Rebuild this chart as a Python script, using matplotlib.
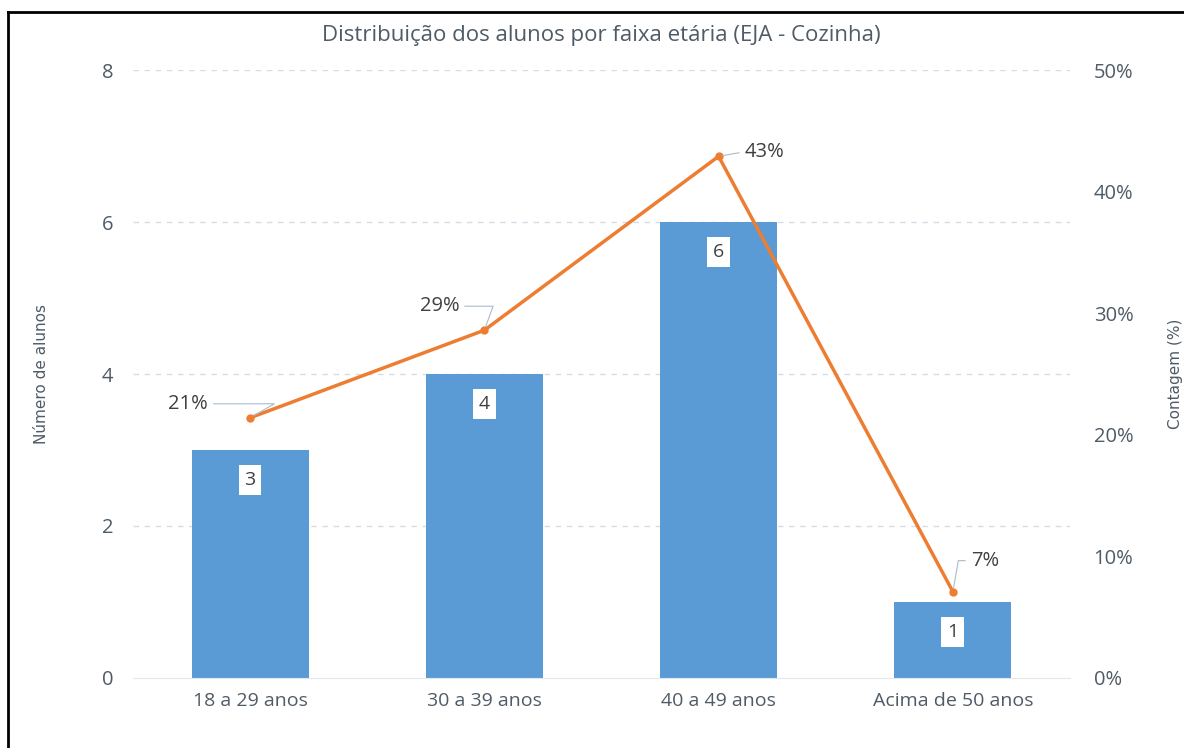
import matplotlib
matplotlib.use("Agg")
import matplotlib.pyplot as plt
from matplotlib.lines import Line2D

# data
faixas = ["18 a 29 anos", "30 a 39 anos", "40 a 49 anos", "Acima de 50 anos"]
alunos = [3, 4, 6, 1]
percentual = [21.4, 28.6, 42.9, 7.1]
rotulos_pct = ["21%", "29%", "43%", "7%"]
left_ticks = [0, 2, 4, 6, 8]
right_ticks = [0, 10, 20, 30, 40, 50]

BAR_COLOR = "#5B9BD5"
LINE_COLOR = "#ED7D31"
TEXT_COLOR = "#4F5B66"
GRID_COLOR = "#D3DDE8"

plt.rcParams["font.family"] = ["Open Sans", "DejaVu Sans"]

fig = plt.figure(figsize=(11.84, 7.48), dpi=100)
ax = fig.add_axes([0.1123, 0.0936, 0.7914, 0.8128])
ax2 = ax.twinx()

x = list(range(len(faixas)))
bars = ax.bar(x, alunos, width=0.5, color=BAR_COLOR, zorder=2)

ax.set_xlim(-0.5, 3.5)
ax.set_ylim(0, 8)
ax.set_yticks(left_ticks)
ax.set_xticks(x)
ax.set_xticklabels(faixas, fontsize=14, color=TEXT_COLOR)
ax.tick_params(axis="both", length=0, colors=TEXT_COLOR, labelsize=14)
ax.tick_params(axis="y", labelsize=14.5, pad=14)
ax.tick_params(axis="x", pad=10)
for yv in left_ticks[1:]:
    ax.axhline(yv, color=GRID_COLOR, lw=1, ls=(0, (4, 4)), zorder=0)
for side in ["top", "right", "left"]:
    ax.spines[side].set_visible(False)
ax.spines["bottom"].set_color("#E3E8EE")
ax.set_ylabel("Número de alunos", fontsize=11, color=TEXT_COLOR,
              family=["Liberation Sans Narrow", "DejaVu Sans"])
ax.yaxis.set_label_coords(-0.09, 0.5)

# value boxes inside the bars
for xi, v in zip(x, alunos):
    ax.annotate(str(v), (xi, v), xytext=(0, -30), textcoords="offset pixels",
                ha="center", va="center", fontsize=14, color="#404040",
                bbox=dict(boxstyle="square,pad=0.3", fc="white", ec="none"), zorder=4)

ax2.plot(x, percentual, color=LINE_COLOR, lw=2.5, marker="o", ms=5, zorder=3)
ax2.set_ylim(0, 50)
ax2.set_yticks(right_ticks)
ax2.set_yticklabels([f"{t}%" for t in right_ticks])
ax2.tick_params(axis="y", length=0, colors=TEXT_COLOR, labelsize=14.5, pad=17)
for side in ["top", "right", "left", "bottom"]:
    ax2.spines[side].set_visible(False)

offsets = [(-62, 14), (-45, 24), (46, 4), (32, 31)]
angles = [30, 70, 10, 80]
for xi, p, lab, (dx, dy), ang in zip(x, percentual, rotulos_pct, offsets, angles):
    ax2.annotate(lab, (xi, p), xytext=(dx, dy), textcoords="offset pixels",
                 ha="center", va="center", fontsize=14.5, color="#404040",
                 arrowprops=dict(arrowstyle="-", color="#A8BCCC", lw=0.8,
                                 shrinkA=2, shrinkB=3,
                                 connectionstyle=f"angle,angleA=0,angleB={ang},rad=0"))

fig.text(0.508, 0.952, "Distribuição dos alunos por faixa etária (EJA - Cozinha)",
         ha="center", va="center", fontsize=16, color=TEXT_COLOR)
fig.text(0.9925, 0.5, "Contagem (%)", rotation=90, ha="center", va="center",
         fontsize=11, color=TEXT_COLOR, family=["Liberation Sans Narrow", "DejaVu Sans"])

# outer frame of the pasted image
fig.add_artist(Line2D([8 / 1184, 8 / 1184], [0, 1 - 12 / 748], color="black", lw=2))
fig.add_artist(Line2D([8 / 1184, 1], [1 - 12 / 748, 1 - 12 / 748], color="black", lw=2))

fig.savefig("out.png", dpi=100)
